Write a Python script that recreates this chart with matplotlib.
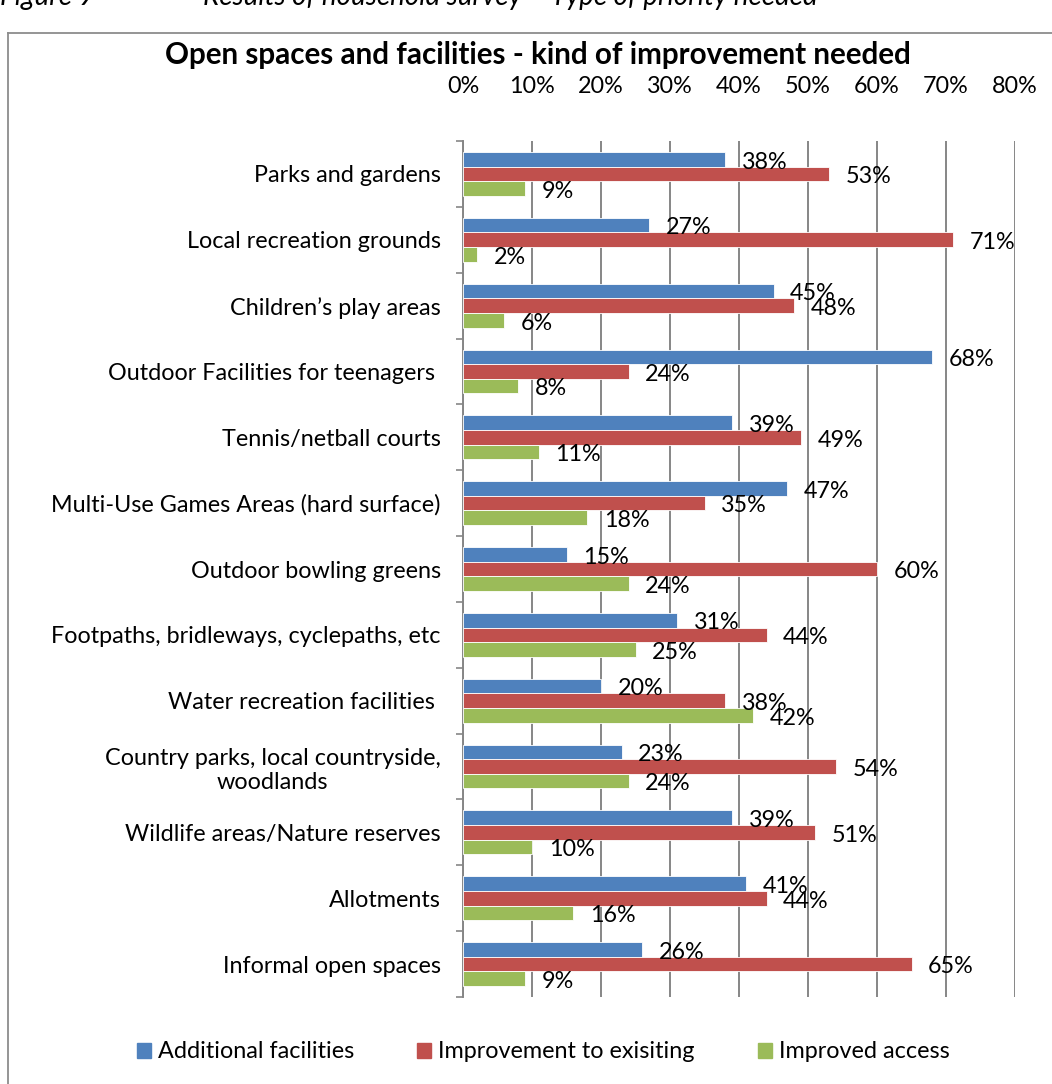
import matplotlib
matplotlib.use("Agg")
import matplotlib.pyplot as plt
import numpy as np
from matplotlib.patches import Rectangle
from matplotlib.lines import Line2D

categories = [
    "Parks and gardens",
    "Local recreation grounds",
    "Children\u2019s play areas",
    "Outdoor Facilities for teenagers ",
    "Tennis/netball courts",
    "Multi-Use Games Areas (hard surface)",
    "Outdoor bowling greens",
    "Footpaths, bridleways, cyclepaths, etc",
    "Water recreation facilities ",
    "Country parks, local countryside,\nwoodlands",
    "Wildlife areas/Nature reserves",
    "Allotments",
    "Informal open spaces",
]
additional = [38, 27, 45, 68, 39, 47, 15, 31, 20, 23, 39, 41, 26]
improvement = [53, 71, 48, 24, 49, 35, 60, 44, 38, 54, 51, 44, 65]
access = [9, 2, 6, 8, 11, 18, 24, 25, 42, 24, 10, 16, 9]
series_names = ["Additional facilities", "Improvement to exisiting", "Improved access"]
colors = ["#4F81BD", "#C0504D", "#9BBB59"]
xticks = [0, 10, 20, 30, 40, 50, 60, 70, 80]

plt.rcParams["font.family"] = ["Lato", "DejaVu Sans"]
FS = 16.8
W, H = 1052, 1084
fig = plt.figure(figsize=(W / 100, H / 100), dpi=100)

# caption above the chart frame
fig.text(0 / W, 1 - 5 / H, "Figure 9", fontsize=20, style="italic", va="baseline", ha="left")
fig.text(203 / W, 1 - 5 / H, "Results of household survey \u2013 Type of priority needed",
         fontsize=20, style="italic", va="baseline", ha="left")

# chart frame
fig.add_artist(Line2D([8 / W, 8 / W], [0, 1 - 33 / H], color="#8c8c8c", lw=1.3, transform=fig.transFigure))
fig.add_artist(Line2D([8 / W, 1], [1 - 33 / H, 1 - 33 / H], color="#8c8c8c", lw=1.3, transform=fig.transFigure))

fig.text(538 / W, 1 - 55 / H, "Open spaces and facilities - kind of improvement needed",
         fontsize=21.3, fontweight="bold", ha="center", va="center")

left, right, top, bottom = 463, 1015, 141, 997
ax = fig.add_axes([left / W, 1 - bottom / H, (right - left) / W, (bottom - top) / H])

n = len(categories)
y = np.arange(n)
bh = 1 / 4.5
all_series = [additional, improvement, access]
for i, (vals, col) in enumerate(zip(all_series, colors)):
    pos = y + (i - 1) * bh
    ax.barh(pos, vals, height=bh, color=col, edgecolor="white", linewidth=0.6, zorder=3)
    for p, v in zip(pos, vals):
        ax.annotate(f"{v}%", xy=(v, p), xytext=(12, -2), textcoords="offset points",
                    ha="left", va="center", fontsize=FS, zorder=4)

ax.set_xlim(0, 80)
ax.set_ylim(n - 0.5, -0.5)
ax.xaxis.tick_top()
ax.set_xticks(xticks)
ax.set_xticklabels([f"{t}%" for t in xticks], fontsize=FS)
ax.tick_params(axis="x", length=0, pad=32)
ax.grid(axis="x", color="#868686", lw=1.4, zorder=0)

ax.set_yticks(y)
ax.set_yticklabels(categories, fontsize=FS, multialignment="center")
ax.tick_params(axis="y", length=0, pad=16)
ax.set_yticks(np.arange(n + 1) - 0.5, minor=True)
ax.tick_params(axis="y", which="minor", length=5, color="#868686", width=1.2)

for s in ["top", "right", "bottom"]:
    ax.spines[s].set_visible(False)
ax.spines["left"].set_color("#868686")
ax.spines["left"].set_linewidth(1.4)

# legend
handles = [Rectangle((0, 0), 1, 1, color=c) for c in colors]
fig.legend(handles, series_names, loc="center", bbox_to_anchor=(543 / W, 1 - 1052 / H),
           ncol=3, frameon=False, fontsize=FS, handlelength=0.6, handleheight=0.6,
           handletextpad=0.3, columnspacing=2.7)

fig.savefig("out.png", dpi=100)
